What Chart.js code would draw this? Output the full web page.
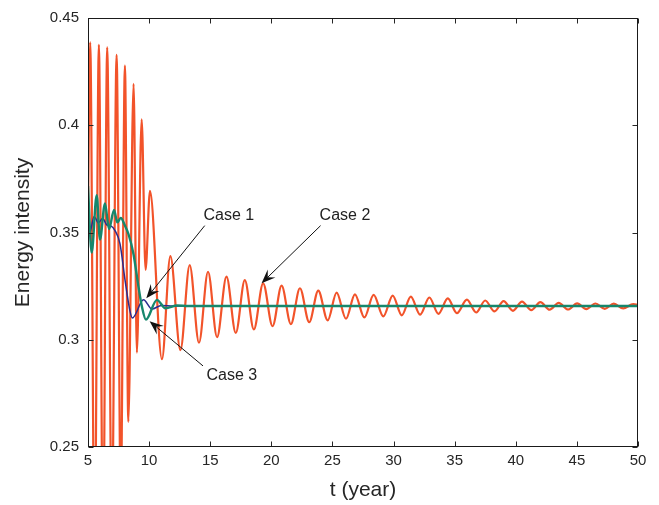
<!DOCTYPE html>
<html>
<head>
<meta charset="utf-8">
<script src="https://cdn.jsdelivr.net/npm/chart.js@4.4.1/dist/chart.umd.min.js"></script>
<style>
  html, body { margin: 0; padding: 0; background: #fff; }
  #wrap { width: 659px; height: 505px; }
</style>
</head>
<body>
<div id="wrap"><canvas id="energyChart" width="659" height="505"></canvas></div>
<script>
// Axis ticks
const xTicks = [5, 10, 15, 20, 25, 30, 35, 40, 45, 50];
const xTickLabels = ['5', '10', '15', '20', '25', '30', '35', '40', '45', '50'];
const yTicks = [0.25, 0.3, 0.35, 0.4, 0.45];
const yTickLabels = ['0.25', '0.3', '0.35', '0.4', '0.45'];

// Case 1: energy intensity vs time
const case1T = [5.0, 5.15, 5.5, 5.85, 6.2, 6.55, 6.9, 7.21, 7.62, 8.03, 8.44, 8.63, 9.54, 10.23, 11.0, 12.0, 50];
const case1E = [0.3605, 0.3500, 0.3575, 0.3545, 0.3565, 0.3535, 0.3530, 0.3509, 0.3447, 0.3278, 0.3132, 0.3101, 0.3186, 0.3143, 0.3160, 0.3157, 0.3157];

// Case 2: large oscillation, slowly damped (turning points)
const case2T = [5.0, 5.18, 5.54, 5.89, 6.23, 6.57, 6.95, 7.34, 7.68, 8.02,
  8.30, 8.73, 9.0, 9.39, 9.71, 10.07, 11.05, 11.74, 12.56, 13.32,
  14.08, 14.82, 15.56, 16.33, 17.09, 17.83, 18.57, 19.33, 20.1, 20.84,
  21.6, 22.34, 23.1, 23.84, 24.61, 25.34, 26.11, 26.84, 27.61, 28.37,
  29.16, 29.93, 30.67, 31.41, 32.17, 32.93, 33.67, 34.44, 35.18, 36.0,
  36.76, 37.5, 38.26, 39.0, 39.77, 40.51, 41.27, 42.01, 42.77, 43.51,
  44.28, 45.02, 45.78, 46.52, 47.28, 48.02, 48.79, 49.61, 50.0];
const case2E = [0.360, 0.4386, 0.195, 0.4375, 0.200, 0.4363, 0.210, 0.4328, 0.225, 0.4278,
  0.2617, 0.4193, 0.2940, 0.4027, 0.3326, 0.3694, 0.2909, 0.3390, 0.2952, 0.3348,
  0.2986, 0.3317, 0.3012, 0.3294, 0.3032, 0.3278, 0.3048, 0.3263, 0.3063, 0.3252,
  0.3073, 0.3240, 0.3082, 0.3229, 0.3090, 0.3220, 0.3098, 0.3212, 0.3104, 0.3209,
  0.3109, 0.3206, 0.3114, 0.3201, 0.3117, 0.3197, 0.3121, 0.3193, 0.3124, 0.3187,
  0.3127, 0.3183, 0.3132, 0.3180, 0.3135, 0.3178, 0.3138, 0.3175, 0.3140, 0.3172,
  0.3141, 0.3170, 0.3143, 0.3169, 0.3144, 0.3168, 0.3146, 0.3166, 0.3163];

// Case 3
const case3T = [5.0, 5.3, 5.71, 5.98, 6.39, 6.72, 7.13, 7.4, 7.68, 8.0, 8.31, 8.72, 9.13, 9.41, 9.74, 10.64, 11.33, 12.3, 13.2, 50];
const case3E = [0.3717, 0.3406, 0.3674, 0.3467, 0.3636, 0.3516, 0.3605, 0.3547, 0.3568, 0.3535, 0.3493, 0.3400, 0.3247, 0.3155, 0.3094, 0.3186, 0.3147, 0.3160, 0.3157, 0.3157];

// Arrow annotations (data units)
const noteLabels = ['Case 1', 'Case 2', 'Case 3'];
const noteTextT = [14.45, 23.95, 14.7];
const noteTextE = [0.358, 0.358, 0.2832];
const noteTailT = [14.55, 24.03, 14.41];
const noteTailE = [0.3532, 0.3532, 0.2878];
const noteTipT = [9.77, 19.2, 10.04];
const noteTipE = [0.3193, 0.3263, 0.3086];

const FONT = '"Liberation Sans", Arial, Helvetica, sans-serif';
const INK = '#262626';

function toPoints(ts, es) {
    return ts.map((t, i) => ({ x: t, y: es[i] }));
}

// Box frame with inward ticks on all four sides
const frameTicks = {
    id: 'frameTicks',
    afterDatasetsDraw(chart) {
        const { ctx, chartArea: a, scales: { x, y } } = chart;
        const L = Math.round(a.left) + 0.5;
        const R = Math.round(a.right) - 0.5;
        const T = Math.round(a.top) + 0.5;
        const B = Math.round(a.bottom) - 0.5;
        const len = 5;
        ctx.save();
        ctx.strokeStyle = INK;
        ctx.lineWidth = 1;
        ctx.beginPath();
        xTicks.forEach(v => {
            const px = Math.round(x.getPixelForValue(v)) + 0.5;
            ctx.moveTo(px, B); ctx.lineTo(px, B - len);
            ctx.moveTo(px, T); ctx.lineTo(px, T + len);
        });
        yTicks.forEach(v => {
            const py = Math.round(y.getPixelForValue(v)) + 0.5;
            ctx.moveTo(L, py); ctx.lineTo(L + len, py);
            ctx.moveTo(R, py); ctx.lineTo(R - len, py);
        });
        ctx.stroke();
        ctx.strokeStyle = '#1a1a1a';
        ctx.strokeRect(L, T, R - L, B - T);
        ctx.restore();
    }
};

// Labels with arrows pointing at the curves
const caseNotes = {
    id: 'caseNotes',
    afterDraw(chart) {
        const { ctx, scales: { x, y } } = chart;
        ctx.save();
        ctx.strokeStyle = '#111';
        ctx.lineWidth = 1;
        noteLabels.forEach((label, i) => {
            const x0 = x.getPixelForValue(noteTailT[i]);
            const y0 = y.getPixelForValue(noteTailE[i]);
            const x1 = x.getPixelForValue(noteTipT[i]);
            const y1 = y.getPixelForValue(noteTipE[i]);
            const dx = x1 - x0, dy = y1 - y0;
            const d = Math.hypot(dx, dy);
            const ux = dx / d, uy = dy / d;
            const nx = -uy, ny = ux;
            const headLen = 14, headW = 11, notch = 0.62;
            ctx.beginPath();
            ctx.moveTo(x0, y0);
            ctx.lineTo(x1 - ux * headLen * notch, y1 - uy * headLen * notch);
            ctx.stroke();
            ctx.fillStyle = '#111';
            ctx.beginPath();
            ctx.moveTo(x1, y1);
            ctx.lineTo(x1 - ux * headLen + nx * headW / 2, y1 - uy * headLen + ny * headW / 2);
            ctx.lineTo(x1 - ux * headLen * notch, y1 - uy * headLen * notch);
            ctx.lineTo(x1 - ux * headLen - nx * headW / 2, y1 - uy * headLen - ny * headW / 2);
            ctx.closePath();
            ctx.fill();

            ctx.font = '16px ' + FONT;
            ctx.textAlign = 'left';
            ctx.textBaseline = 'middle';
            ctx.fillStyle = '#222';
            ctx.fillText(label, x.getPixelForValue(noteTextT[i]), y.getPixelForValue(noteTextE[i]));
        });
        ctx.restore();
    }
};

const lineStyle = {
    pointRadius: 0,
    pointHoverRadius: 0,
    fill: false,
    cubicInterpolationMode: 'monotone'
};

new Chart(document.getElementById('energyChart'), {
    type: 'line',
    data: {
        datasets: [
            {
                label: 'Case 1',
                data: toPoints(case1T, case1E),
                borderColor: '#2b2c8e',
                borderWidth: 1.5,
                order: 2,
                ...lineStyle
            },
            {
                label: 'Case 2',
                data: toPoints(case2T, case2E),
                borderColor: '#f2532a',
                borderWidth: 2.2,
                order: 3,
                ...lineStyle
            },
            {
                label: 'Case 3',
                data: toPoints(case3T, case3E),
                borderColor: '#16876c',
                borderWidth: 2.4,
                order: 1,
                ...lineStyle
            }
        ]
    },
    options: {
        responsive: false,
        animation: false,
        events: [],
        layout: { padding: { top: 13, right: 21, left: 0, bottom: 0 } },
        plugins: {
            legend: { display: false },
            tooltip: { enabled: false }
        },
        scales: {
            x: {
                type: 'linear',
                min: 5,
                max: 50,
                afterBuildTicks: scale => { scale.ticks = xTicks.map(v => ({ value: v })); },
                afterFit: scale => { scale.height = 58; },
                grid: { display: false, drawTicks: false },
                border: { display: false },
                ticks: {
                    color: INK,
                    font: { family: FONT, size: 15 },
                    padding: 5,
                    maxRotation: 0,
                    autoSkip: false,
                    callback: (value, index) => xTickLabels[index]
                },
                title: {
                    display: true,
                    text: 't (year)',
                    color: INK,
                    font: { family: FONT, size: 21 },
                    padding: { top: 0, bottom: 2 }
                }
            },
            y: {
                type: 'linear',
                min: 0.25,
                max: 0.45,
                afterBuildTicks: scale => { scale.ticks = yTicks.map(v => ({ value: v })); },
                afterFit: scale => { scale.width = 88; },
                grid: { display: false, drawTicks: false },
                border: { display: false },
                ticks: {
                    color: INK,
                    font: { family: FONT, size: 15 },
                    padding: 9,
                    autoSkip: false,
                    callback: (value, index) => yTickLabels[index]
                },
                title: {
                    display: true,
                    text: 'Energy intensity',
                    color: INK,
                    font: { family: FONT, size: 21 },
                    padding: { top: 11, bottom: 0 }
                }
            }
        }
    },
    plugins: [frameTicks, caseNotes]
});
</script>
</body>
</html>
